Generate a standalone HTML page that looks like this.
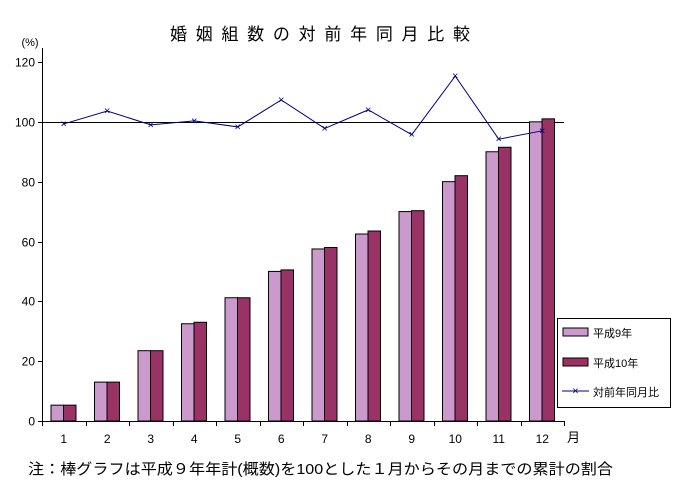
<!DOCTYPE html>
<html><head><meta charset="utf-8"><style>
body{margin:0;background:#fff;}
svg{display:block;font-family:"Liberation Sans","Noto Sans CJK JP",sans-serif;}
</style></head><body>
<svg width="675" height="490" viewBox="0 0 675 490">
<text x="170" y="40" font-size="17" textLength="300" lengthAdjust="spacing">婚姻組数の対前年同月比較</text>
<text x="30" y="46" font-size="11" text-anchor="middle">(%)</text>
<g id="axes"></g><g id="bars"></g><g id="line"></g>
<text x="567" y="442" font-size="13">月</text>
<text x="28" y="474" font-size="15" textLength="585" lengthAdjust="spacingAndGlyphs">注：棒グラフは平成９年年計(概数)を100とした１月からその月までの累計の割合</text>
<g>
<rect x="557.5" y="318.5" width="113" height="89" fill="#fff" stroke="#000"/>
<rect x="563" y="328" width="25" height="8" fill="#cc99cc" stroke="#000"/>
<text x="593" y="337" font-size="11">平成9年</text>
<rect x="563" y="358" width="25" height="8" fill="#993366" stroke="#000"/>
<text x="593" y="367" font-size="11">平成10年</text>
<line x1="562" y1="391" x2="589" y2="391" stroke="#000080"/>
<text x="575.5" y="394.5" font-size="11" fill="#000080" text-anchor="middle">×</text>
<text x="593" y="396" font-size="11">対前年同月比</text>
</g>
</svg>
<script>
const months=["1","2","3","4","5","6","7","8","9","10","11","12"];
const h9=[5.3,13,23.5,32.5,41.2,50,57.5,62.5,70,80,90,100];
const h10=[5.3,13,23.5,33,41.2,50.5,58,63.5,70.3,82,91.5,101];
const ratio=[99.3,103.6,99,100.3,98.3,107.3,97.8,104,95.7,115.3,94.2,97];
const yTicks=[0,20,40,60,80,100,120];
const NS="http://www.w3.org/2000/svg";
const x0=42,x1=564,yB=421,yT=62;
const cw=(x1-x0)/months.length;
const y=v=>yB-(v/120)*(yB-yT);
const xc=i=>x0+cw*(i+0.5);
function mk(p,t,a){const e=document.createElementNS(NS,t);for(const k in a)e.setAttribute(k,a[k]);p.appendChild(e);return e;}
const ax=document.getElementById('axes');
let e=mk(ax,'line',{x1:x0+.5,y1:yT-14,x2:x0+.5,y2:yB,stroke:'#000'});


yTicks.forEach(t=>{
 const yy=Math.round(y(t))+.5;
 mk(ax,'line',{x1:x0-4,y1:yy,x2:x0,y2:yy,stroke:'#000'});
 const tx=mk(ax,'text',{x:x0-7,y:yy+4,'font-size':12,'text-anchor':'end'});
 tx.textContent=t;
 
 
});
e=mk(ax,'line',{x1:x0,y1:Math.round(y(100))+.5,x2:x1,y2:Math.round(y(100))+.5,stroke:'#000'});


const bg=document.getElementById('bars');
const bw=12.5;
months.forEach((m,i)=>{
 const s=x0+cw*i;
 let r=mk(bg,'rect',{x:s+9,y:y(h9[i]),width:bw,height:yB-y(h9[i]),fill:'#cc99cc',stroke:'#000'});
 
 
 r=mk(bg,'rect',{x:s+9+bw,y:y(h10[i]),width:bw,height:yB-y(h10[i]),fill:'#993366',stroke:'#000'});
 
 
 const tk=Math.round(s)+.5;
 mk(ax,'line',{x1:tk,y1:yB,x2:tk,y2:yB+5,stroke:'#000'});
 const tx=mk(ax,'text',{x:xc(i),y:yB+22,'font-size':12,'text-anchor':'middle'});
 tx.textContent=m;
 
 
});
mk(ax,'line',{x1:x1+.5,y1:yB,x2:x1+.5,y2:yB+5,stroke:'#000'});
e=mk(ax,'line',{x1:x0,y1:yB+.5,x2:x1,y2:yB+.5,stroke:'#000'});


const lg=document.getElementById('line');
const pl=mk(lg,'polyline',{points:ratio.map((v,i)=>xc(i)+','+y(v)).join(' '),fill:'none',stroke:'#000080'});


ratio.forEach((v,i)=>{
 const t=mk(lg,'text',{x:xc(i),y:y(v)+3.5,'font-size':11,fill:'#000080','text-anchor':'middle'});
 t.textContent='×';
 
 
});
</script>
</body></html>
